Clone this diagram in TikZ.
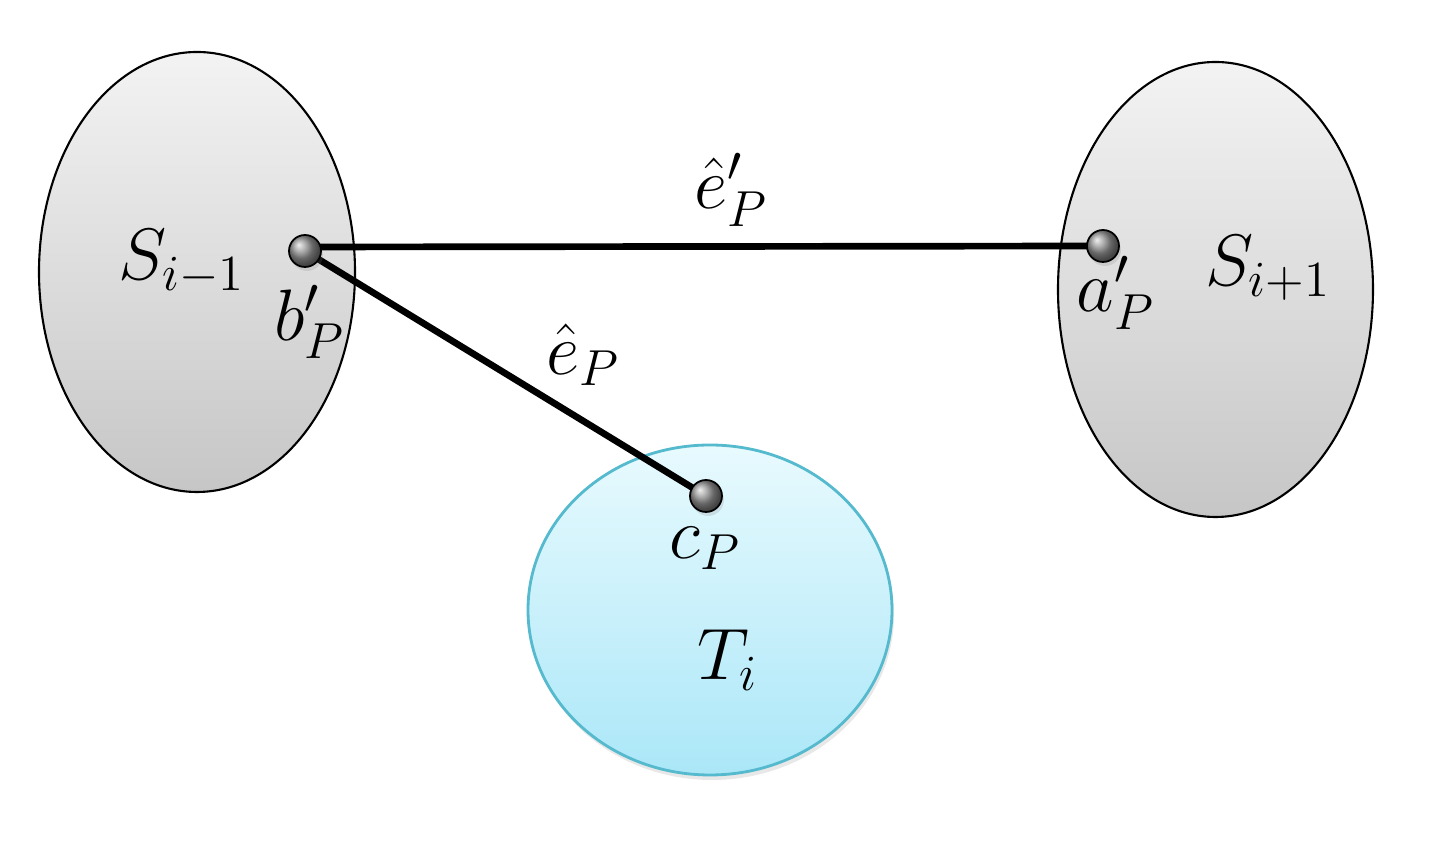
\documentclass[tikz,border=0pt]{standalone}
\usetikzlibrary{shapes.geometric,shadows}
\definecolor{greytop}{HTML}{F3F3F3}
\definecolor{greybot}{HTML}{C6C6C6}
\definecolor{bluetop}{HTML}{E8FAFE}
\definecolor{bluebot}{HTML}{ABE7F8}
\definecolor{blueline}{HTML}{55BACD}
\tikzset{
  setgrey/.style={ellipse, draw=black, line width=0.6pt, top color=greytop, bottom color=greybot, inner sep=0pt},
  setblue/.style={ellipse, draw=blueline, line width=0.8pt, top color=bluetop, bottom color=bluebot, inner sep=0pt,
    drop shadow={opacity=0.18, shadow xshift=0.02cm, shadow yshift=-0.05cm}},
  dot/.style={circle, draw=black, line width=0.5pt, minimum size=0.32cm, inner sep=0pt, shading=ball, ball color=gray!85,
    drop shadow={opacity=0.2, shadow xshift=0.02cm, shadow yshift=-0.04cm}},
  edge/.style={line width=1.9pt, black},
  lbl/.style={inner sep=0pt, font=\fontsize{20}{24}\selectfont}
}
\begin{document}
\begin{tikzpicture}
\useasboundingbox (0,0) rectangle (14.48,-8.47);
\node[setgrey, minimum width=3.16cm, minimum height=4.40cm] (Sl) at (1.97,-2.72) {};
\node[setgrey, minimum width=3.15cm, minimum height=4.55cm] (Sr) at (12.155,-2.895) {};
\node[setblue, minimum width=3.64cm, minimum height=3.30cm] (T) at (7.10,-6.10) {};
\coordinate (b) at (3.05,-2.51);
\coordinate (a) at (11.03,-2.46);
\coordinate (c) at (7.06,-4.96);
\draw[edge] ([yshift=0.04cm]b) -- (a);
\draw[edge] (b) -- (c);
\node[dot] (bd) at (b) {};
\node[dot] (ad) at (a) {};
\node[dot] (cd) at (c) {};
\node[lbl] (lSl) at (1.82,-2.62) {$S_{i-1}$};
\node[lbl] (lb) at (3.10,-3.22) {$b'_P$};
\node[lbl] (lep) at (7.31,-1.90) {$\hat{e}'_P$};
\node[lbl] (le) at (5.83,-3.55) {$\hat{e}_P$};
\node[lbl] (la) at (11.16,-2.93) {$a'_P$};
\node[lbl] (lSr) at (12.68,-2.68) {$S_{i+1}$};
\node[lbl] (lc) at (7.05,-5.48) {$c_P$};
\node[lbl] (lT) at (7.28,-6.60) {$T_i$};
\end{tikzpicture}
\end{document}
